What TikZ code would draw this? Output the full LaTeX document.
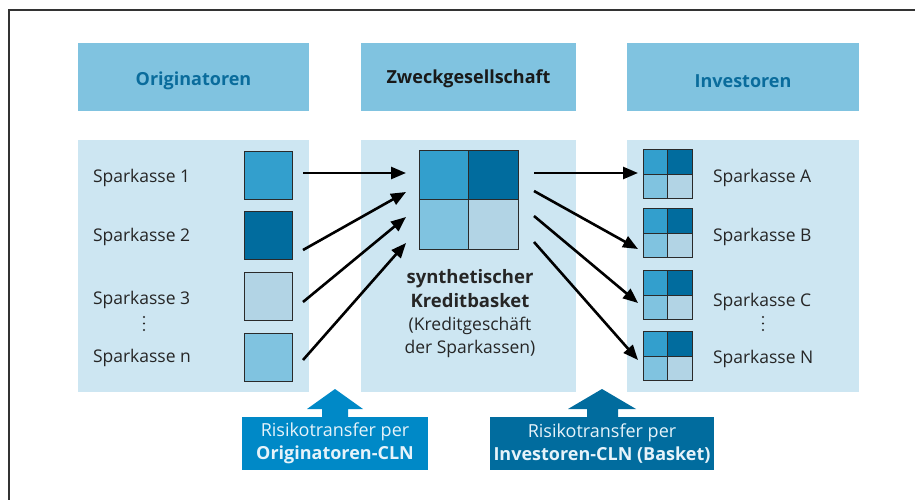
\documentclass[tikz,border=0pt]{standalone}
\usepackage{fontspec}
\setmainfont{Open Sans}
\usetikzlibrary{arrows.meta}
\definecolor{hdr}{HTML}{80C3E0}
\definecolor{panel}{HTML}{CDE6F2}
\definecolor{cA}{HTML}{339FCD}
\definecolor{cB}{HTML}{016C9E}
\definecolor{cC}{HTML}{B2D4E5}
\definecolor{cD}{HTML}{80C3E0}
\definecolor{tb}{HTML}{0089C7}
\definecolor{tlight}{HTML}{E6F3FA}
\definecolor{hdrtext}{HTML}{0A6C9C}
\definecolor{sqline}{HTML}{2A2A2A}
\begin{document}
\begin{tikzpicture}[x=1pt,y=-1pt,
  every node/.style={inner sep=0pt, outer sep=0pt},
  hdrbox/.style={fill=hdr, minimum height=68pt},
  hdrtxt/.style={font=\fontsize{18}{20}\selectfont\bfseries},
  panelbox/.style={fill=panel, minimum height=252pt},
  sq/.style={draw=sqline, line width=0.9pt, minimum size=#1},
  lab/.style={anchor=west, font=\fontsize{17.5}{20}\selectfont, text=black!85},
  dot/.style={circle, fill=black!85, minimum size=2.2pt},
  conn/.style={line width=2.6pt, -{Triangle[length=15pt,width=12pt]}},
  tbox/.style={minimum height=53pt, text=tlight, align=center, font=\fontsize{18}{23}\selectfont}
]
\useasboundingbox (0,0) rectangle (915,500);
\begin{scope}
\clip (0,0) rectangle (915,500);
\draw[line width=1.4pt, draw=black!80] (9,10) rectangle (940,520);
\end{scope}

% headers
\node[hdrbox, minimum width=231pt] (h1) at (193.5,77) {};
\node[hdrbox, minimum width=215pt] (h2) at (468.5,77) {};
\node[hdrbox, minimum width=232pt] (h3) at (743,77) {};
\node[hdrtxt, text=hdrtext] (h1t) at (193.5,81) {Originatoren};
\node[hdrtxt, text=black!90] (h2t) at (468.5,79) {Zweckgesellschaft};
\node[hdrtxt, text=hdrtext] (h3t) at (743,81) {Investoren};

% panels
\node[panelbox, minimum width=231pt] (p1) at (193.5,266) {};
\node[panelbox, minimum width=215pt] (p2) at (468.5,266) {};
\node[panelbox, minimum width=232pt] (p3) at (743,266) {};

% left squares
\node[sq=48pt, fill=cA] (s1) at (268,175) {};
\node[sq=48pt, fill=cB] (s2) at (268,235) {};
\node[sq=48pt, fill=cC] (s3) at (268,296) {};
\node[sq=48pt, fill=cD] (sn) at (268,357) {};

\node[lab] (l1) at (93,178) {Sparkasse 1};
\node[lab] (l2) at (93,237) {Sparkasse 2};
\node[lab] (l3) at (93,300) {Sparkasse 3};
\node[lab] (ln) at (93,358) {Sparkasse n};
\node[dot] (ld1) at (144,317) {};
\node[dot] (ld2) at (144,323.5) {};
\node[dot] (ld3) at (144,330) {};

% middle basket
\node[sq=49.5pt, fill=cA] (b1) at (443.75,174.75) {};
\node[sq=49.5pt, fill=cB] (b2) at (493.25,174.75) {};
\node[sq=49.5pt, fill=cD] (b3) at (443.75,224.25) {};
\node[sq=49.5pt, fill=cC] (b4) at (493.25,224.25) {};

\node[align=center, font=\fontsize{17.5}{23.3}\selectfont, text=black!85] (mt) at (470,314)
  {{\fontsize{18.5}{23.3}\selectfont\bfseries synthetischer}\\{\fontsize{18.5}{23.3}\selectfont\bfseries Kreditbasket}\\(Kreditgeschäft\\der Sparkassen)};

% right small baskets
\foreach \nm/\yy in {A/162, B/221, C/283, N/344}{
  \node[sq=24.5pt, fill=cA] (r\nm1) at (655.25,\yy) {};
  \node[sq=24.5pt, fill=cB] (r\nm2) at (679.75,\yy) {};
  \node[sq=24.5pt, fill=cD] (r\nm3) at (655.25,\yy+24.5) {};
  \node[sq=24.5pt, fill=cC] (r\nm4) at (679.75,\yy+24.5) {};
}
\node[lab] (lA) at (713,178) {Sparkasse A};
\node[lab] (lB) at (713,237) {Sparkasse B};
\node[lab] (lC) at (713,302) {Sparkasse C};
\node[lab] (lN) at (713,359) {Sparkasse N};
\node[dot] (rd1) at (763,317) {};
\node[dot] (rd2) at (763,323.5) {};
\node[dot] (rd3) at (763,330) {};

% connector coordinates
\coordinate (ls1) at (303,173); \coordinate (le1) at (406,173);
\coordinate (ls2) at (303,250); \coordinate (le2) at (406,192);
\coordinate (ls3) at (303,302); \coordinate (le3) at (406,217);
\coordinate (ls4) at (303,360); \coordinate (le4) at (406,243);
\coordinate (rs1) at (534,173); \coordinate (re1) at (638,173);
\coordinate (rs2) at (534,191); \coordinate (re2) at (638,249);
\coordinate (rs3) at (534,216); \coordinate (re3) at (638,303);
\coordinate (rs4) at (534,242); \coordinate (re4) at (638,360);
\foreach \i in {1,2,3,4}{
  \draw[conn] (ls\i) -- (le\i);
  \draw[conn] (rs\i) -- (re\i);
}

% bottom boxes with arrows
\fill[tb] (322,418) -- (322,409) -- (307,409) -- (335,389) -- (363,409) -- (348,409) -- (348,418) -- cycle;
\node[tbox, fill=tb, minimum width=186pt] (t1) at (335,443.5)
  {Risikotransfer per\\\textbf{Originatoren-CLN}};
\fill[cB] (587,418) -- (587,409) -- (568,409) -- (602,389) -- (636,409) -- (618,409) -- (618,418) -- cycle;
\node[tbox, fill=cB, minimum width=224pt] (t2) at (602,443.5)
  {Risikotransfer per\\\textbf{Investoren-CLN (Basket)}};
\end{tikzpicture}
\end{document}
